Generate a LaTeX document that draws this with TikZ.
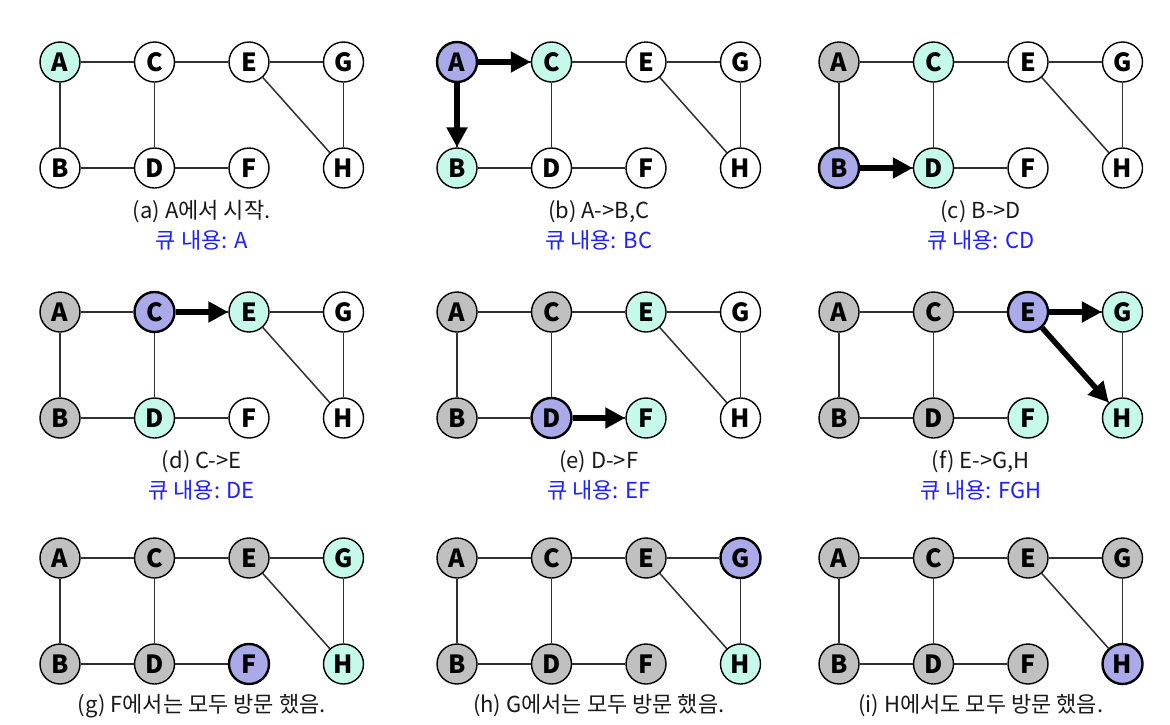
\documentclass[tikz,border=0pt]{standalone}
\usepackage{fontspec}
\setmainfont{Noto Sans CJK KR}
\usetikzlibrary{arrows.meta}
\definecolor{mint}{HTML}{C5FAEA}
\definecolor{purp}{HTML}{AAAAEB}
\definecolor{gry}{HTML}{C0C0C0}
\definecolor{edgec}{HTML}{303030}
\definecolor{capblue}{HTML}{1F1FFF}
\tikzset{
  nd/.style={circle, draw=black, line width=1.4pt, minimum size=40pt, inner sep=0pt,
    font=\fontsize{25}{25}\selectfont\bfseries},
  wh/.style={fill=white},
  mi/.style={fill=mint},
  pu/.style={fill=purp, line width=2.4pt},
  gr/.style={fill=gry},
  edg/.style={draw=edgec, line width=1.5pt},
  arr/.style={draw=black, line width=5.5pt, -{Triangle[length=20pt, width=20pt]}},
  captxt/.style={font=\fontsize{22}{22}\selectfont, text=black!90},
  qtxt/.style={font=\fontsize{22}{22}\selectfont, text=capblue}
}
\newcommand\graphnodes[8]{%
  \node[nd,#1] (A) at (60,62) {A};
  \node[nd,#2] (B) at (60,168) {B};
  \node[nd,#3] (C) at (154.5,62) {C};
  \node[nd,#4] (D) at (154.5,168) {D};
  \node[nd,#5] (E) at (249,62) {E};
  \node[nd,#6] (F) at (249,168) {F};
  \node[nd,#7] (G) at (343.5,62) {G};
  \node[nd,#8] (H) at (343.5,168) {H};
  \draw[edg] (A) -- (C);
  \draw[edg] (C) -- (E);
  \draw[edg] (E) -- (G);
  \draw[edg] (A) -- (B);
  \draw[edg] (C) -- (D);
  \draw[edg] (B) -- (D);
  \draw[edg] (D) -- (F);
  \draw[edg] (G) -- (H);
  \draw[edg] (E) -- (H);
}
\begin{document}
\begin{tikzpicture}[x=1pt, y=-1pt]
\useasboundingbox[fill=white] (0,0) rectangle (1170,724);
% (a)
\begin{scope}[shift={(0,0)}, name prefix=pa-]
  \graphnodes{mi}{wh}{wh}{wh}{wh}{wh}{wh}{wh}
  \node[captxt] (c1) at (201.75,212) {(a) A에서 시작.};
  \node[qtxt] (q1) at (201.75,240) {큐 내용: A};
\end{scope}
% (b)
\begin{scope}[shift={(397,0)}, name prefix=pb-]
  \graphnodes{pu}{mi}{mi}{wh}{wh}{wh}{wh}{wh}
  \draw[arr] (A) -- (C);
  \draw[arr] (A) -- (B);
  \node[captxt] (c1) at (201.75,212) {(b) A->B,C};
  \node[qtxt] (q1) at (201.75,240) {큐 내용: BC};
\end{scope}
% (c)
\begin{scope}[shift={(779,0)}, name prefix=pc-]
  \graphnodes{gr}{pu}{mi}{mi}{wh}{wh}{wh}{wh}
  \draw[arr] (B) -- (D);
  \node[captxt] (c1) at (201.75,212) {(c) B->D};
  \node[qtxt] (q1) at (201.75,240) {큐 내용: CD};
\end{scope}
% (d)
\begin{scope}[shift={(0,250)}, name prefix=pd-]
  \graphnodes{gr}{gr}{pu}{mi}{mi}{wh}{wh}{wh}
  \draw[arr] (C) -- (E);
  \node[captxt] (c1) at (201.75,212) {(d) C->E};
  \node[qtxt] (q1) at (201.75,240) {큐 내용: DE};
\end{scope}
% (e)
\begin{scope}[shift={(397,250)}, name prefix=pe-]
  \graphnodes{gr}{gr}{gr}{pu}{mi}{mi}{wh}{wh}
  \draw[arr] (D) -- (F);
  \node[captxt] (c1) at (201.75,212) {(e) D->F};
  \node[qtxt] (q1) at (201.75,240) {큐 내용: EF};
\end{scope}
% (f)
\begin{scope}[shift={(779,250)}, name prefix=pf-]
  \graphnodes{gr}{gr}{gr}{gr}{pu}{mi}{mi}{mi}
  \draw[arr] (E) -- (G);
  \draw[arr] (E) -- (H);
  \node[captxt] (c1) at (201.75,212) {(f) E->G,H};
  \node[qtxt] (q1) at (201.75,240) {큐 내용: FGH};
\end{scope}
% (g)
\begin{scope}[shift={(0,496)}, name prefix=pg-]
  \graphnodes{gr}{gr}{gr}{gr}{gr}{pu}{mi}{mi}
  \node[captxt] (c1) at (201.75,210) {(g) F에서는 모두 방문 했음.};
\end{scope}
% (h)
\begin{scope}[shift={(397,496)}, name prefix=ph-]
  \graphnodes{gr}{gr}{gr}{gr}{gr}{gr}{pu}{mi}
  \node[captxt] (c1) at (201.75,210) {(h) G에서는 모두 방문 했음.};
\end{scope}
% (i)
\begin{scope}[shift={(779,496)}, name prefix=pi-]
  \graphnodes{gr}{gr}{gr}{gr}{gr}{gr}{gr}{pu}
  \node[captxt] (c1) at (201.75,210) {(i) H에서도 모두 방문 했음.};
\end{scope}
\end{tikzpicture}
\end{document}
